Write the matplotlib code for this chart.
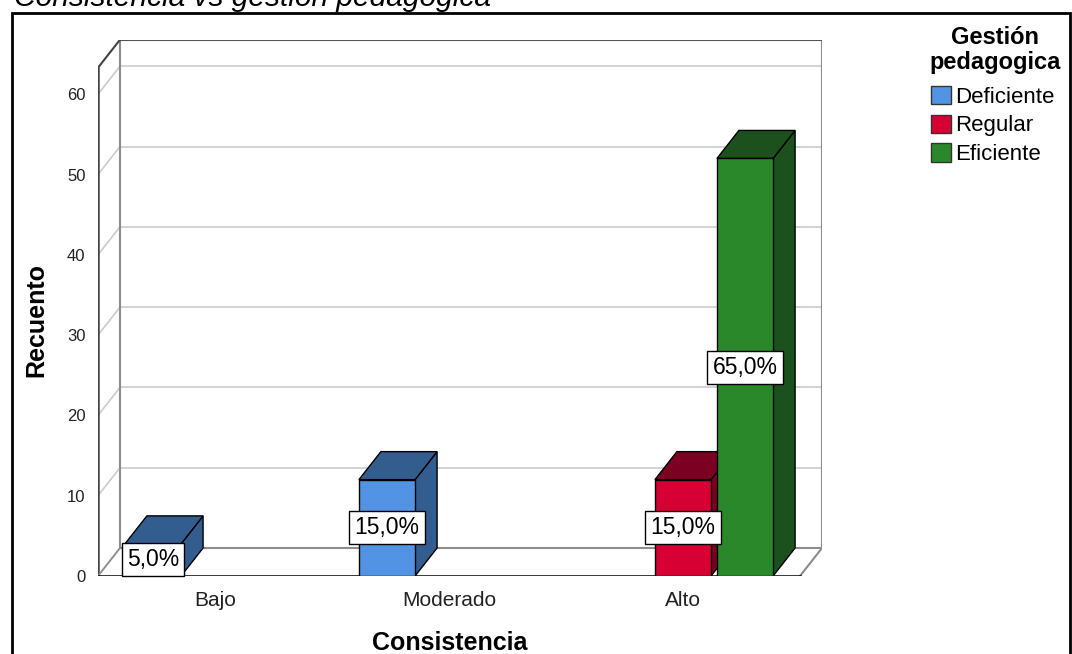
import matplotlib
matplotlib.use('Agg')
import matplotlib.pyplot as plt
from matplotlib.patches import Polygon, Rectangle, Patch

plt.rcParams['font.family'] = ['Liberation Sans', 'DejaVu Sans']

categories = ['Bajo', 'Moderado', 'Alto']
groups = ['Deficiente', 'Regular', 'Eficiente']
deficiente = [4, 12, 0]
regular = [0, 0, 12]
eficiente = [0, 0, 52]
yticks = [0, 10, 20, 30, 40, 50, 60]

front_colors = ['#5393E4', '#D60034', '#2A882A']
dark_colors = ['#345D8F', '#7C0021', '#1C501C']

W, H = 1072, 654
fig = plt.figure(figsize=(W / 100, H / 100), dpi=100)

# pixel geometry of the 3d box
sx = 234.0   # px per category
sy = 8.03    # px per count
ddx, ddy = 22, 28  # depth offset in px
dx, dy = ddx / sx, ddy / sy
ymax = 63.3

ax = fig.add_axes([98 / W, (H - 576) / H, 724 / W, 536 / H])
ax.set_xlim(-0.5, -0.5 + 724 / sx)
ax.set_ylim(0, 536 / sy)
for s in ax.spines.values():
    s.set_visible(False)

x0, x1 = -0.5, 2.5

# back wall gridlines + left wall diagonals
for v in yticks:
    ax.plot([x0 + dx, x1 + dx], [v + dy, v + dy], color='#CCCCCC', lw=1.2, zorder=1)
    ax.plot([x0, x0 + dx], [v, v + dy], color='#CCCCCC', lw=1.2, zorder=1)

# frame of the box
grey = '#8C8C8C'
ax.plot([x0 + dx, x0 + dx], [dy, ymax + dy], color=grey, lw=1.5, zorder=2)
ax.plot([x1 + dx, x1 + dx], [dy, ymax + dy], color=grey, lw=1.5, zorder=2)
ax.plot([x0 + dx, x1 + dx], [ymax + dy, ymax + dy], color='#555555', lw=1.5, zorder=2)
ax.plot([x0 + dx, x1 + dx], [dy, dy], color=grey, lw=1.5, zorder=2)
ax.plot([x1, x1 + dx], [0, dy], color=grey, lw=1.5, zorder=2)
ax.plot([x0, x0], [0, ymax], color='#444444', lw=1.8, zorder=2)
ax.plot([x0, x0 + dx], [ymax, ymax + dy], color='#444444', lw=1.5, zorder=2)
ax.plot([x0, x0 + dx], [0, dy], color=grey, lw=1.2, zorder=2)
ax.plot([x0, x1], [0, 0], color='black', lw=1.8, zorder=2)

slot = 0.265
bw = 0.24
total = sum(deficiente) + sum(regular) + sum(eficiente)
series = [deficiente, regular, eficiente]

labels = []
for i in range(len(categories)):
    for j, vals in enumerate(series):
        v = vals[i]
        if v == 0:
            continue
        xc = i + (j - 1) * slot
        xl, xr = xc - bw / 2, xc + bw / 2
        z = 3 + i * 3 + j
        ax.add_patch(Polygon([(xr, 0), (xr + dx, dy), (xr + dx, v + dy), (xr, v)],
                             closed=True, fc=dark_colors[j], ec='black', lw=1, zorder=z))
        ax.add_patch(Polygon([(xl, v), (xr, v), (xr + dx, v + dy), (xl + dx, v + dy)],
                             closed=True, fc=dark_colors[j], ec='black', lw=1, zorder=z))
        ax.add_patch(Rectangle((xl, 0), bw, v, fc=front_colors[j], ec='black', lw=1, zorder=z))
        labels.append((xc, v / 2, '{:.1f}%'.format(v / total * 100).replace('.', ',')))

for xc, yc, t in labels:
    ax.text(xc, yc, t, ha='center', va='center', fontsize=16.5, zorder=30,
            bbox=dict(boxstyle='square,pad=0.22', fc='white', ec='black', lw=1))

ax.set_yticks(yticks)
ax.set_yticklabels([str(v) for v in yticks], fontsize=12, color='#222222')
ax.set_xticks(range(len(categories)))
ax.set_xticklabels(categories, fontsize=15, color='#222222')
ax.tick_params(axis='y', length=0, pad=9)
ax.tick_params(axis='x', length=0, pad=11)

fig.text(450 / W, 1 - 643 / H, 'Consistencia', ha='center', va='center',
         fontsize=18, fontweight='bold')
fig.text(36 / W, 1 - 320 / H, 'Recuento', ha='center', va='center',
         rotation=90, fontsize=18, fontweight='bold')

# title cut off by the top edge
fig.text(14 / W, 1 - 6 / H, 'Consistencia vs gestión pedagógica', ha='left',
         va='baseline', fontsize=21.5, style='italic')

# outer frame
fig.add_artist(Rectangle((12 / W, -0.05), (1070 - 12) / W, 1 - 13 / H + 0.05,
                         transform=fig.transFigure, fill=False, ec='black', lw=2))

# legend
fig.text(995 / W, 1 - 50 / H, 'Gestión\npedagogica', ha='center', va='center',
         multialignment='center', fontsize=17, fontweight='bold', linespacing=1.1)
handles = [Patch(fc=front_colors[j], ec='#333333', lw=1) for j in range(3)]
fig.legend(handles, groups, loc='upper left',
           bbox_to_anchor=(931 / W, 1 - 86 / H), frameon=False, fontsize=16,
           handlelength=0.9, handleheight=0.9, handletextpad=0.2,
           labelspacing=0.3, borderaxespad=0, borderpad=0)

fig.savefig('out.png', dpi=100)
